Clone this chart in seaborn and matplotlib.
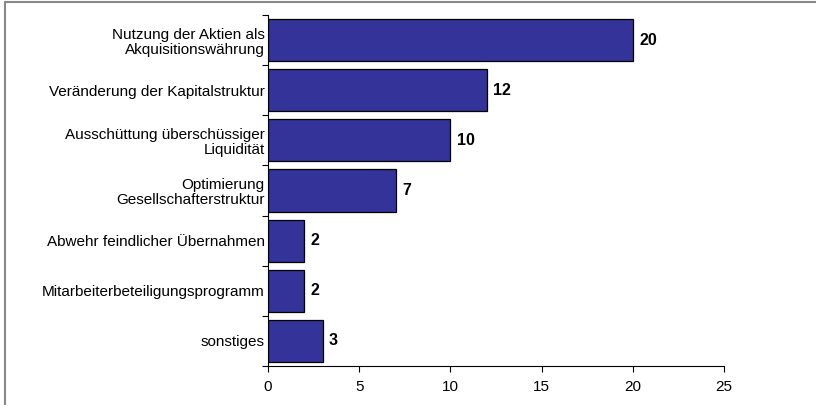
import matplotlib
matplotlib.use("Agg")
import matplotlib.pyplot as plt
import seaborn as sns
from matplotlib.lines import Line2D
from matplotlib.ticker import FixedLocator

# data
categories = [
    "Nutzung der Aktien als\nAkquisitionswährung",
    "Veränderung der Kapitalstruktur",
    "Ausschüttung überschüssiger\nLiquidität",
    "Optimierung\nGesellschafterstruktur",
    "Abwehr feindlicher Übernahmen",
    "Mitarbeiterbeteiligungsprogramm",
    "sonstiges",
]
counts = [20, 12, 10, 7, 2, 2, 3]
x_ticks = [0, 5, 10, 15, 20, 25]

BAR_FILL = "#333399"
TEXT_COLOR = "#000000"

sns.set_style("white")
plt.rcParams["font.family"] = ["Liberation Sans", "DejaVu Sans"]

fig = plt.figure(figsize=(8.16, 4.05), dpi=100)
ax = fig.add_axes([268 / 816, 1 - 366 / 405, (724 - 268) / 816, (366 - 15) / 405])

sns.barplot(x=counts, y=categories, orient="h", color=BAR_FILL,
            edgecolor="black", linewidth=0.9, width=0.84, saturation=1, ax=ax)

ax.bar_label(ax.containers[0], labels=[str(c) for c in counts], padding=4.5,
             fontsize=11.5, fontweight="bold", color=TEXT_COLOR)

ax.set_xlim(0, 25)
ax.set_ylim(len(categories) - 0.5, -0.5)
ax.set_xticks(x_ticks)
ax.set_xticklabels([str(t) for t in x_ticks], fontsize=11, color=TEXT_COLOR)

# y ticks sit on category boundaries, labels in between
ax.yaxis.set_minor_locator(FixedLocator([i - 0.5 for i in range(len(categories) + 1)]))
ax.tick_params(axis="y", which="major", length=0, pad=2.5, labelsize=11, labelcolor=TEXT_COLOR)
ax.tick_params(axis="y", which="minor", length=4, width=0.8, color="black", direction="out", left=True)
ax.tick_params(axis="x", which="major", length=4, width=0.8, color="black", direction="out", bottom=True, pad=6)
for lbl in ax.get_yticklabels():
    lbl.set_linespacing(1.1)

ax.set_xlabel("")
ax.set_ylabel("")
for side in ["top", "right"]:
    ax.spines[side].set_visible(False)
for side in ["left", "bottom"]:
    ax.spines[side].set_color("black")
    ax.spines[side].set_linewidth(0.8)

# gray frame around the chart area (only top and left edges visible)
fig.add_artist(Line2D([4.5 / 816, 1], [1 - 2 / 405, 1 - 2 / 405], color="#888888", lw=1.5,
                      transform=fig.transFigure))
fig.add_artist(Line2D([4.5 / 816, 4.5 / 816], [0, 1 - 2 / 405], color="#888888", lw=1.5,
                      transform=fig.transFigure))

fig.savefig("out.png", dpi=100)
